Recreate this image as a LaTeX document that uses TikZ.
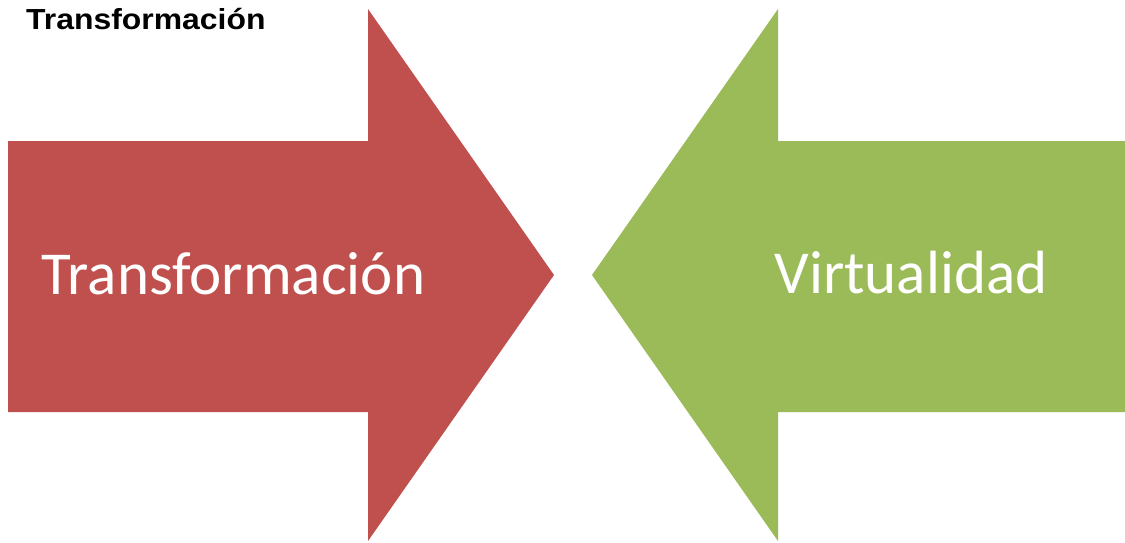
\documentclass[tikz,border=0pt]{standalone}
\usepackage{fontspec}
\setmainfont{Carlito}
\newfontfamily\titlefont{Liberation Sans}
\definecolor{arrowred}{HTML}{C0504D}
\definecolor{arrowgreen}{HTML}{9BBB59}
\begin{document}
\begin{tikzpicture}[x=1pt, y=-1pt,
    label/.style={text=white, font=\fontsize{61}{70}\selectfont, inner sep=0pt, anchor=base}]
\useasboundingbox (0,0) rectangle (1125,542);
\fill[arrowred](8,141)--(368,141)--(368,9)--(554,275)--(368,541)--(368,412)--(8,412)--cycle;
\fill[arrowgreen](1125,141)--(778,141)--(778,9)--(592,275)--(778,541)--(778,412)--(1125,412)--cycle;
\node[label] (trans) at (233.5,294) {Transformación};
\node[label] (virt) at (911,293) {Virtualidad};
\node[anchor=base west, inner sep=0pt, xscale=1.1, font=\titlefont\bfseries\fontsize{29}{33}\selectfont] (title) at (26,29) {Transformación};
\end{tikzpicture}
\end{document}
